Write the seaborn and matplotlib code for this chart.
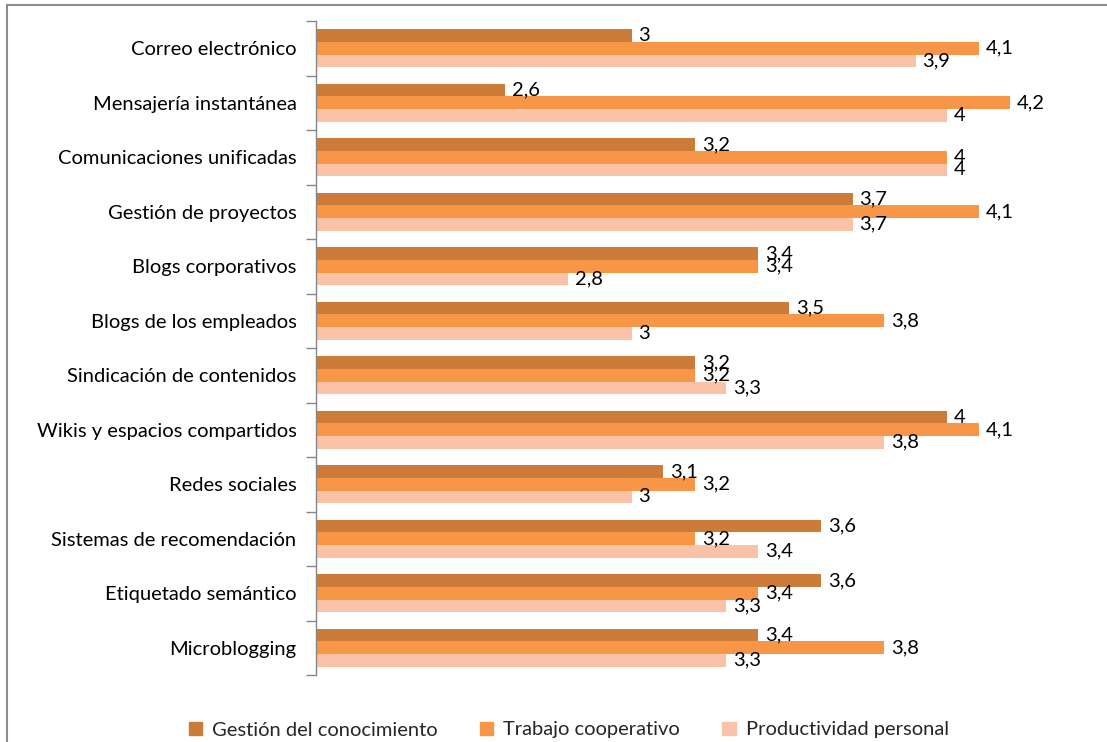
import matplotlib
matplotlib.use("Agg")
import matplotlib.pyplot as plt
import seaborn as sns
import pandas as pd
import numpy as np
from matplotlib.patches import Rectangle

categories = ["Correo electrónico", "Mensajería instantánea", "Comunicaciones unificadas",
              "Gestión de proyectos", "Blogs corporativos", "Blogs de los empleados",
              "Sindicación de contenidos", "Wikis y espacios compartidos", "Redes sociales",
              "Sistemas de recomendación", "Etiquetado semántico", "Microblogging"]
series = ["Gestión del conocimiento", "Trabajo cooperativo", "Productividad personal"]
gestion = [3, 2.6, 3.2, 3.7, 3.4, 3.5, 3.2, 4, 3.1, 3.6, 3.6, 3.4]
trabajo = [4.1, 4.2, 4, 4.1, 3.4, 3.8, 3.2, 4.1, 3.2, 3.2, 3.4, 3.8]
productividad = [3.9, 4, 4, 3.7, 2.8, 3, 3.3, 3.8, 3, 3.4, 3.3, 3.3]
colors = ["#CD7B39", "#F79646", "#FAC3A7"]

sns.set_theme(style="white")
plt.rcParams['font.family'] = ['Lato', 'DejaVu Sans']

rows = []
for s, vals in zip(series, [gestion, trabajo, productividad]):
    for c, v in zip(categories, vals):
        rows.append({"cat": c, "serie": s, "val": v})
df = pd.DataFrame(rows)

fig = plt.figure(figsize=(11.07, 7.42), dpi=100)
ax = fig.add_axes([316/1107, 1-675/742, (1105-316)/1107, (675-21)/742])
sns.barplot(data=df, y="cat", x="val", hue="serie", order=categories, hue_order=series,
            palette=colors, orient="h", width=0.69, saturation=1, ax=ax, legend=False,
            edgecolor="none", linewidth=0)

ax.set_xlim(2, 4.5)
ax.set_ylim(len(categories) - 0.5, -0.5)
ax.set_xlabel("")
ax.set_ylabel("")
ax.set_xticks([])
for sp in ["top", "right", "bottom"]:
    ax.spines[sp].set_visible(False)
ax.spines["left"].set_color("#868686")
ax.spines["left"].set_linewidth(1)
ax.tick_params(axis="y", which="major", length=0, labelsize=14.5, pad=14, labelcolor="black")
ax.set_yticks(np.arange(-0.5, len(categories)), minor=True)
ax.tick_params(axis="y", which="minor", left=True, length=7, color="#868686", width=1,
               direction="out")

for cont, vals in zip(ax.containers, [gestion, trabajo, productividad]):
    labels = [f"{v:g}".replace(".", ",") for v in vals]
    ax.bar_label(cont, labels=labels, padding=5, fontsize=14.5, color="black")

handles = [Rectangle((0, 0), 1, 1, color=c) for c in colors]
fig.legend(handles, series, loc="center", bbox_to_anchor=(0.514, 1-730/742), ncol=3,
           frameon=False, fontsize=14.5, handlelength=0.65, handleheight=0.65,
           columnspacing=2.1, handletextpad=0.5)

fig.patches.append(Rectangle((7/1107, -0.02), 1.1, 1-4.5/742 + 0.02, transform=fig.transFigure,
                             fill=False, edgecolor="#8C8C8C", linewidth=1.5))

fig.savefig("out.png", dpi=100)
